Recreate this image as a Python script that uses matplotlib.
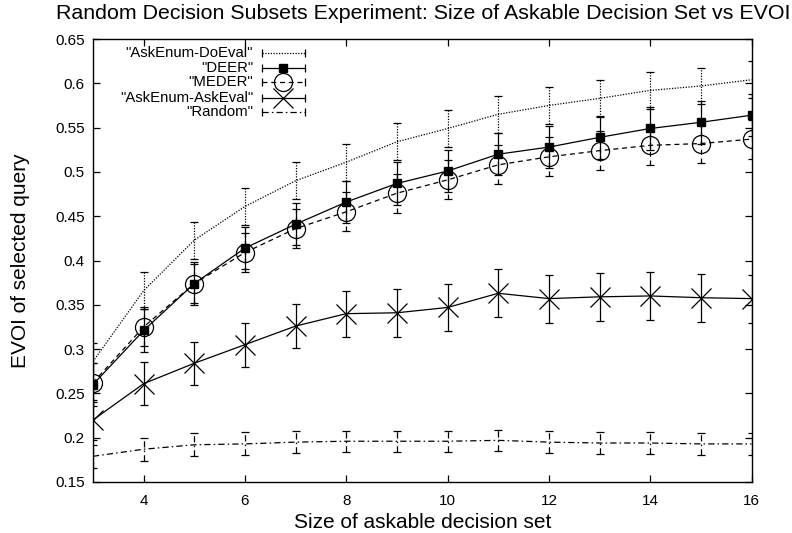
import matplotlib
matplotlib.use("Agg")
import matplotlib.pyplot as plt
from matplotlib.ticker import FixedLocator, FuncFormatter

plt.rcParams['font.family'] = ['Liberation Sans', 'DejaVu Sans']

# Size of the askable decision set
set_size = [3, 4, 5, 6, 7, 8, 9, 10, 11, 12, 13, 14, 15, 16]

# Mean EVOI of the selected query, with error-bar half widths
askenum_doeval = [0.286, 0.366, 0.423, 0.461, 0.490, 0.511, 0.534, 0.549, 0.565, 0.575, 0.583, 0.592, 0.597, 0.604]
askenum_doeval_err = [0.021, 0.021, 0.021, 0.021, 0.021, 0.021, 0.021, 0.021, 0.021, 0.021, 0.021, 0.021, 0.020, 0.021]

deer = [0.260, 0.321, 0.374, 0.414, 0.441, 0.466, 0.487, 0.501, 0.520, 0.528, 0.539, 0.549, 0.556, 0.564]
deer_err = [0.024, 0.024, 0.024, 0.024, 0.024, 0.024, 0.024, 0.024, 0.024, 0.024, 0.024, 0.024, 0.024, 0.024]

meder = [0.262, 0.325, 0.374, 0.409, 0.436, 0.455, 0.476, 0.491, 0.508, 0.517, 0.524, 0.530, 0.532, 0.537]
meder_err = [0.022, 0.022, 0.022, 0.022, 0.022, 0.022, 0.022, 0.022, 0.022, 0.022, 0.022, 0.022, 0.022, 0.022]

askenum_askeval = [0.220, 0.261, 0.284, 0.305, 0.326, 0.340, 0.341, 0.347, 0.363, 0.357, 0.359, 0.360, 0.358, 0.357]
askenum_askeval_err = [0.023, 0.024, 0.024, 0.025, 0.025, 0.026, 0.027, 0.027, 0.027, 0.027, 0.027, 0.027, 0.027, 0.027]

random_sel = [0.179, 0.187, 0.192, 0.193, 0.195, 0.196, 0.196, 0.196, 0.197, 0.195, 0.194, 0.194, 0.193, 0.193]
random_err = [0.013, 0.013, 0.013, 0.013, 0.012, 0.012, 0.012, 0.012, 0.012, 0.012, 0.012, 0.012, 0.012, 0.012]

labels = ['"AskEnum-DoEval"', '"DEER"', '"MEDER"', '"AskEnum-AskEval"', '"Random"']

x_ticks = [4, 6, 8, 10, 12, 14, 16]
y_ticks = [0.15, 0.2, 0.25, 0.3, 0.35, 0.4, 0.45, 0.5, 0.55, 0.6, 0.65]

dotted = (0, (1.0, 1.2))
dashed = (0, (4.0, 3.0))
dashdot = (0, (5.0, 2.5, 1.2, 2.5))

series = [
    (askenum_doeval, askenum_doeval_err, dotted, dict(marker='None')),
    (deer, deer_err, '-', dict(marker='s', markersize=5.5, markerfacecolor='black', markeredgecolor='black')),
    (meder, meder_err, dashed, dict(marker='o', markersize=13, markerfacecolor='none', markeredgecolor='black', markeredgewidth=0.9)),
    (askenum_askeval, askenum_askeval_err, '-', dict(marker='x', markersize=14, markeredgecolor='black', markeredgewidth=0.9)),
    (random_sel, random_err, dashdot, dict(marker='None')),
]

fig = plt.figure(figsize=(7.92, 5.33), dpi=100)
ax = fig.add_axes([0.1174, 0.0957, 0.8315, 0.8311])

for vals, errs, ls, mk in series:
    cont = ax.errorbar(set_size, vals, yerr=errs, color='black', linewidth=0.9,
                       linestyle=ls, elinewidth=0.9, capsize=2.6, capthick=0.9, **mk)
    for coll in cont[2]:
        coll.set_linestyle(ls)

# Key: right-aligned names, each followed by a |---| sample with its marker
key_text_x = 0.243
key_x0, key_x1 = 0.2566, 0.322
key_rows = [0.968, 0.935, 0.902, 0.867, 0.835]
for (vals, errs, ls, mk), lab, yr in zip(series, labels, key_rows):
    ax.text(key_text_x, yr, lab, transform=ax.transAxes, ha='right', va='center', fontsize=10.7)
    ax.plot([key_x0, key_x1], [yr, yr], transform=ax.transAxes, color='black',
            linewidth=0.9, linestyle=ls, clip_on=False)
    ax.plot([key_x0, key_x1], [yr, yr], transform=ax.transAxes, linestyle='None',
            marker='|', markersize=5.2, markeredgewidth=0.9, color='black', clip_on=False)
    if mk.get('marker', 'None') != 'None':
        ax.plot([(key_x0 + key_x1) / 2], [yr], transform=ax.transAxes, linestyle='None',
                clip_on=False, **mk)

ax.set_xlim(3, 16)
ax.set_ylim(0.15, 0.65)
ax.xaxis.set_major_locator(FixedLocator(x_ticks))
ax.yaxis.set_major_locator(FixedLocator(y_ticks))
ax.yaxis.set_major_formatter(FuncFormatter(lambda v, p: '%g' % round(v, 2)))
ax.tick_params(direction='in', length=5, width=0.9, top=True, right=True,
               labelsize=11, pad=6)
ax.tick_params(axis='x', pad=9)
for sp in ax.spines.values():
    sp.set_linewidth(1.0)

ax.set_xlabel('Size of askable decision set', fontsize=15, labelpad=3)
ax.set_ylabel('EVOI of selected query', fontsize=15, labelpad=18)
fig.text(0.535, 0.975, 'Random Decision Subsets Experiment: Size of Askable Decision Set vs EVOI',
         ha='center', va='center', fontsize=15.4)

fig.savefig('out.png', dpi=100)
